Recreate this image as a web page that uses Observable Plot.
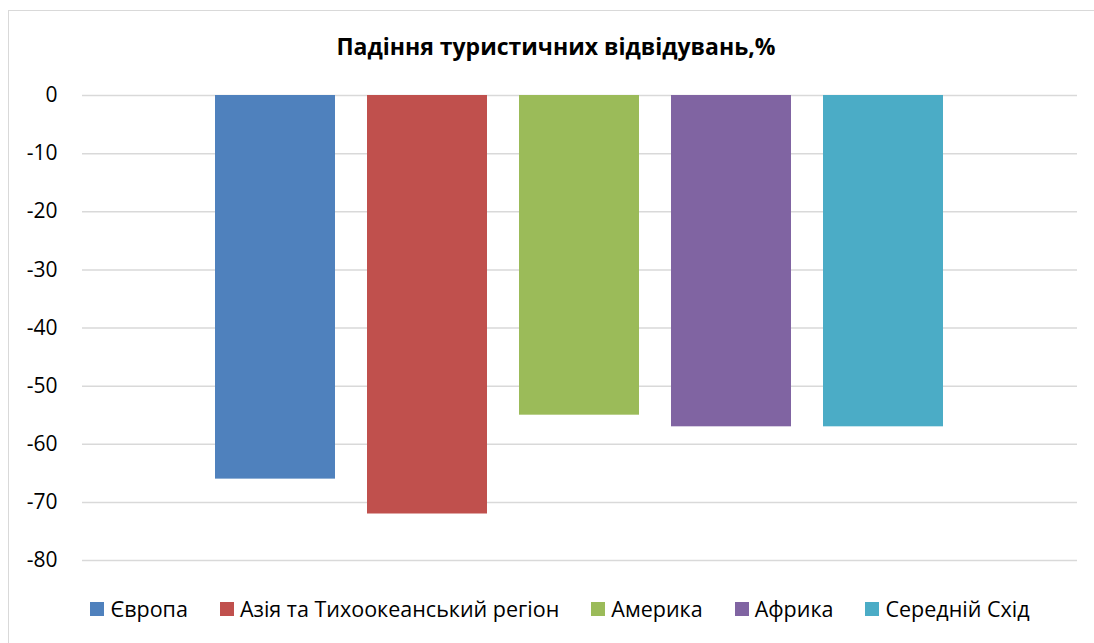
<!DOCTYPE html>
<html>
<head>
<meta charset="utf-8">
<script src="https://cdn.jsdelivr.net/npm/d3@7"></script>
<script src="https://cdn.jsdelivr.net/npm/@observablehq/plot@0.6"></script>
<style>
  html, body { margin: 0; padding: 0; background: #fff; overflow: hidden; }
  #wrap { position: relative; width: 1094px; height: 643px; overflow: hidden; font-family: "Open Sans", Lato, sans-serif; }
  #frame { position: absolute; left: 8px; top: 10px; width: 1300px; height: 800px; border-left: 1.5px solid #d9d9d9; border-top: 1.5px solid #d9d9d9; box-sizing: border-box; }
  #title { position: absolute; left: 0; width: 1112px; top: 30px; text-align: center; font-weight: bold; font-size: 23px; color: #000; }
  #chart { position: absolute; left: 0; top: 0; }
  #legend { position: absolute; left: 0; width: 1120px; top: 594px; display: flex; justify-content: center; font-size: 21.5px; color: #000; }
  .item { display: flex; align-items: center; margin: 0 16px; }
  .sw { width: 14px; height: 14px; margin-right: 6px; }
</style>
</head>
<body>
<div id="wrap">
  <div id="frame"></div>
  <div id="title">Падіння туристичних відвідувань,%</div>
  <div id="chart"></div>
  <div id="legend"></div>
</div>
<script>
const regions = ["Європа", "Азія та Тихоокеанський регіон", "Америка", "Африка", "Середній Схід"];
const values = [-66, -72, -55, -57, -57];
const colors = ["#4F81BD", "#C0504D", "#9BBB59", "#8064A2", "#4BACC6"];
const yTicks = [0, -10, -20, -30, -40, -50, -60, -70, -80];

const data = regions.map((r, i) => ({region: r, value: values[i]}));

const plot = Plot.plot({
  width: 1094,
  height: 580,
  marginTop: 95,
  marginBottom: 20,
  marginLeft: 82,
  marginRight: 17,
  style: {fontFamily: "'Open Sans', Lato, sans-serif", fontSize: "21px", color: "#000", background: "transparent"},
  x: {domain: regions, axis: null, paddingInner: 0.21, paddingOuter: 0.87},
  y: {domain: [-80, 0], ticks: yTicks},
  color: {domain: regions, range: colors},
  marks: [
    Plot.gridY(yTicks, {stroke: "#d9d9d9", strokeOpacity: 1, strokeWidth: 1.5}),
    Plot.barY(data, {x: "region", y: "value", fill: "region"}),
    Plot.axisY(yTicks, {tickSize: 0, tickPadding: 25, label: null, fontSize: 21, fill: "#000", tickFormat: d => String(d)})
  ]
});
document.getElementById("chart").appendChild(plot);

const legend = document.getElementById("legend");
regions.forEach((r, i) => {
  const it = document.createElement("div");
  it.className = "item";
  const sw = document.createElement("div");
  sw.className = "sw";
  sw.style.background = colors[i];
  const t = document.createElement("span");
  t.textContent = r;
  it.appendChild(sw);
  it.appendChild(t);
  legend.appendChild(it);
});
</script>
</body>
</html>
